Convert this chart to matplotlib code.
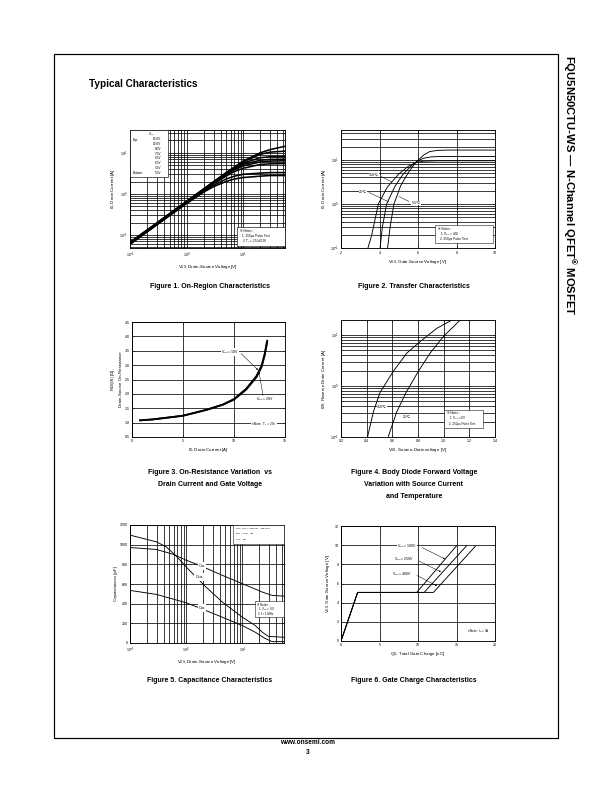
import matplotlib
matplotlib.use('Agg')
import matplotlib.pyplot as plt
from matplotlib.ticker import NullFormatter, LogLocator, MultipleLocator, FormatStrFormatter
from matplotlib.patches import Rectangle

plt.rcParams['font.family'] = ['Liberation Sans', 'DejaVu Sans']
plt.rcParams['mathtext.fontset'] = 'custom'
plt.rcParams['mathtext.rm'] = 'Liberation Sans'
plt.rcParams['mathtext.it'] = 'Liberation Sans:italic'
plt.rcParams['mathtext.bf'] = 'Liberation Sans:bold'
plt.rcParams['mathtext.default'] = 'regular'

# ---------------- data ----------------
# Figure 1: On-region characteristics
f1_vds = [0.1, 0.2, 0.5, 1, 2, 3, 5, 7, 10, 20, 30, 55]
f1_vgs_labels = ['15.0V', '10.0V', '8.0V', '7.0V', '6.5V', '6.0V', '5.5V', '5.0V']
f1_id_15 = [0.066, 0.132, 0.33, 0.66, 1.32, 1.98, 3.3, 4.5, 6.3, 10.0, 12.0, 14.4]
f1_id_10 = [0.065, 0.130, 0.325, 0.65, 1.30, 1.95, 3.2, 4.4, 6.0, 9.2, 10.4, 11.0]
f1_id_8 = [0.064, 0.128, 0.32, 0.64, 1.28, 1.90, 3.1, 4.3, 5.6, 7.6, 8.0, 8.2]
f1_id_7 = [0.063, 0.126, 0.315, 0.63, 1.26, 1.87, 3.0, 4.1, 5.2, 6.6, 6.9, 7.0]
f1_id_65 = [0.062, 0.124, 0.31, 0.62, 1.23, 1.82, 2.9, 3.9, 4.8, 6.0, 6.3, 6.4]
f1_id_6 = [0.061, 0.122, 0.305, 0.61, 1.20, 1.75, 2.7, 3.5, 4.2, 5.2, 5.4, 5.5]
f1_id_55 = [0.060, 0.120, 0.30, 0.60, 1.15, 1.60, 2.3, 2.7, 3.0, 3.2, 3.3, 3.3]
f1_id_5 = [0.059, 0.118, 0.295, 0.58, 1.10, 1.50, 2.0, 2.3, 2.5, 2.7, 2.8, 2.8]

# Figure 2: Transfer characteristics
f2_vgs_150 = [3.4, 3.6, 3.94, 4.4, 5.0, 5.5, 5.9, 6.3, 7.0, 10.0]
f2_id_150 = [0.1, 0.2, 1.0, 2.4, 4.8, 7.2, 8.8, 9.4, 9.6, 9.6]
f2_vgs_25 = [4.03, 4.15, 4.37, 4.8, 5.2, 5.6, 5.95, 6.3, 6.7, 7.2, 10.0]
f2_id_25 = [0.1, 0.3, 1.0, 2.5, 4.6, 7.0, 9.4, 11.0, 11.8, 12.0, 12.0]
f2_vgs_m55 = [4.42, 4.55, 4.75, 5.1, 5.5, 5.9, 6.3, 6.6, 7.0, 7.5, 10.0]
f2_id_m55 = [0.1, 0.3, 1.0, 2.6, 5.2, 9.0, 13.0, 15.5, 16.5, 16.8, 16.8]

# Figure 3: On-resistance vs drain current
f3_id = [0.8, 2, 5, 7.3, 8.9, 10, 11.2, 12.2, 12.7, 13.0, 13.25]
f3_rds_10 = [1.08, 1.11, 1.24, 1.45, 1.63, 1.82, 2.18, 2.62, 2.98, 3.38, 3.85]
f3_rds_20 = [1.08, 1.11, 1.24, 1.44, 1.62, 1.80, 2.15, 2.58, 2.93, 3.33, 3.80]

# Figure 4: Body diode forward voltage
f4_vsd_150 = [0.408, 0.452, 0.504, 0.608, 0.712, 0.816, 0.946, 1.062]
f4_isd_150 = [0.103, 0.31, 0.745, 1.95, 4.4, 7.4, 13.5, 19.5]
f4_vsd_25 = [0.569, 0.634, 0.707, 0.803, 0.894, 0.997, 1.127]
f4_isd_25 = [0.103, 0.31, 0.745, 1.95, 4.4, 9.3, 19.5]

# Figure 5: Capacitance characteristics
f5_vds_iss = [0.1, 0.295, 0.58, 1.0, 1.72, 4.4, 10, 22.6, 33.7, 55]
f5_ciss = [971, 951, 903, 842, 790, 688, 603, 518, 484, 477]
f5_vds_oss = [0.1, 0.295, 0.44, 0.66, 1.14, 2.25, 4.4, 10, 17, 22.6, 29, 55]
f5_coss = [1097, 1029, 978, 886, 739, 569, 416, 262, 177, 109, 68, 58]
f5_vds_rss = [0.1, 0.295, 1.0, 2.25, 4.4, 10, 17, 25, 33.7, 55]
f5_crss = [535, 494, 409, 330, 262, 177, 109, 48, 14, 14]

# Figure 6: Gate charge characteristics
f6_qg_100 = [0, 2.16, 9.83, 15.0]
f6_qg_250 = [0, 2.16, 10.8, 16.3]
f6_qg_400 = [0, 2.16, 12.0, 17.5]
f6_vgs = [0, 5.07, 5.07, 9.93]

# ---------------- layout helpers ----------------
W, H = 612, 792
fig = plt.figure(figsize=(W / 72, H / 72), dpi=72)


def add_ax(l, t, r, b):
    return fig.add_axes([l / W, 1 - b / H, (r - l) / W, (b - t) / H])


def style(ax):
    for s in ax.spines.values():
        s.set_linewidth(0.9)
    ax.tick_params(which='both', direction='in', labelsize=3.6, width=0.5, pad=2.5,
                   top=True, right=True)
    ax.tick_params(which='major', length=2.2)
    ax.tick_params(which='minor', length=1.2)


def box(ax, l, t, r, b, lw=0.6):
    ax.add_patch(Rectangle((l / W, 1 - b / H), (r - l) / W, (b - t) / H,
                           transform=fig.transFigure, fc='white', ec='black',
                           lw=lw, zorder=5, clip_on=False))


def txt(ax, x, y, s, size=3.3, bg=False, **kw):
    kw.setdefault('va', 'center')
    if bg:
        kw['bbox'] = dict(fc='white', ec='none', pad=0.4)
    ax.text(x / W, 1 - y / H, s, transform=fig.transFigure, fontsize=size,
            zorder=6, **kw)


def arrow(ax, x1, y1, x2, y2, head=True):
    ax.annotate('', xy=(x2 / W, 1 - y2 / H), xycoords='figure fraction',
                xytext=(x1 / W, 1 - y1 / H), textcoords='figure fraction',
                arrowprops=dict(arrowstyle='-|>' if head else '-', lw=0.5,
                                color='black', mutation_scale=3, shrinkA=0, shrinkB=0),
                zorder=6)


gridkw = dict(color='black', lw=0.75)
lab = 4.4

# ---------------- page decoration ----------------
fig.add_artist(Rectangle((54 / W, 1 - 738 / H), (558 - 54) / W, (738 - 54) / H,
                         transform=fig.transFigure, fill=False, ec='black', lw=1.2))
fig.text(89 / W, 1 - 84 / H, 'Typical Characteristics', fontsize=10, fontweight='bold',
         va='center', ha='left')
fig.text(569 / W, 1 - 55 / H, 'FQU5N50CTU-WS \u2014 N-Channel QFET$^{\u00ae}$ MOSFET',
         fontsize=11.3, fontweight='bold', rotation=-90, va='top', ha='center')
fig.text(308 / W, 1 - 743 / H, 'www.onsemi.com', fontsize=6.5, fontweight='bold',
         ha='center', va='center')
fig.text(308 / W, 1 - 752 / H, '3', fontsize=6.5, fontweight='bold', ha='center',
         va='center')

caps = [(210, [287], ['Figure 1. On-Region Characteristics']),
        (414, [287], ['Figure 2. Transfer Characteristics']),
        (210, [473, 485], ['Figure 3. On-Resistance Variation  vs',
                           'Drain Current and Gate Voltage']),
        (414, [473, 485, 497], ['Figure 4. Body Diode Forward Voltage',
                                'Variation with Source Current', 'and Temperature']),
        (210, [681], ['Figure 5. Capacitance Characteristics']),
        (414, [681], ['Figure 6. Gate Charge Characteristics'])]
for cx, ys, lines in caps:
    for yy, s in zip(ys, lines):
        fig.text(cx / W, 1 - yy / H, s, fontsize=7, fontweight='bold', ha='center',
                 va='center')

# ---------------- Figure 1 ----------------
ax1 = add_ax(130, 130, 285, 248)
ax1.set_xscale('log')
ax1.set_yscale('log')
for yv in [f1_id_15, f1_id_10, f1_id_8, f1_id_7, f1_id_65, f1_id_6, f1_id_55, f1_id_5]:
    ax1.plot(f1_vds, yv, color='black', lw=1.6, zorder=3)
ax1.set_xlim(0.1, 55)
ax1.set_ylim(0.048, 36)
ax1.xaxis.set_major_locator(LogLocator(base=10, numticks=10))
ax1.yaxis.set_major_locator(LogLocator(base=10, numticks=10))
ax1.xaxis.set_minor_formatter(NullFormatter())
ax1.yaxis.set_minor_formatter(NullFormatter())
ax1.grid(True, which='both', **gridkw)
style(ax1)
ax1.set_xlabel(r'V$_{DS}$, Drain-Source Voltage [V]', fontsize=lab, labelpad=3)
ax1.set_ylabel(r'I$_{D}$, Drain Current [A]', fontsize=lab, labelpad=2)
box(ax1, 130, 130, 168, 177)
txt(ax1, 152, 134.5, r'V$_{GS}$', size=3.3, ha='center')
ys1 = [139.5, 144.2, 149, 153.7, 158.4, 163.1, 167.8, 172.5]
for yy, s in zip(ys1, f1_vgs_labels):
    txt(ax1, 161, yy, s, size=3.1, ha='right')
txt(ax1, 133, ys1[0], 'Top:', size=3.1, ha='left')
txt(ax1, 133, ys1[-1], 'Bottom:', size=3.1, ha='left')
box(ax1, 237, 227, 285, 246)
txt(ax1, 240, 231, '\u203b Notes :', size=3.1)
txt(ax1, 242, 236, '1. 250\u03bcs Pulse Test', size=3.1)
txt(ax1, 242, 241.5, r'2. T$_C$ = 25\u2103', size=3.1)

# ---------------- Figure 2 ----------------
ax2 = add_ax(341, 130, 495, 248)
ax2.set_yscale('log')
ax2.plot(f2_vgs_150, f2_id_150, color='black', lw=0.9, zorder=3)
ax2.plot(f2_vgs_25, f2_id_25, color='black', lw=0.9, zorder=3)
ax2.plot(f2_vgs_m55, f2_id_m55, color='black', lw=0.9, zorder=3)
ax2.set_xlim(2, 10)
ax2.set_ylim(0.1, 48)
ax2.xaxis.set_major_locator(MultipleLocator(2))
ax2.yaxis.set_major_locator(LogLocator(base=10, numticks=10))
ax2.yaxis.set_minor_formatter(NullFormatter())
ax2.grid(True, axis='y', which='both', **gridkw)
ax2.grid(True, axis='x', which='major', **gridkw)
style(ax2)
ax2.set_xlabel(r'V$_{GS}$, Gate-Source Voltage [V]', fontsize=lab, labelpad=3)
ax2.set_ylabel(r'I$_{D}$, Drain Current [A]', fontsize=lab, labelpad=2)
txt(ax2, 374, 175, '150\u2103', size=3.5, ha='center', bg=True)
arrow(ax2, 381, 176.5, 392, 182, head=False)
txt(ax2, 363, 192, '25\u2103', size=3.5, ha='center', bg=True)
arrow(ax2, 369, 192.5, 389, 202, head=False)
txt(ax2, 416, 203, '-55\u2103', size=3.5, ha='center', bg=True)
arrow(ax2, 409, 201.5, 399, 196.5, head=False)
box(ax2, 435, 225, 493, 243, lw=0.5)
txt(ax2, 438, 229, '\u203b Notes :', size=3.1)
txt(ax2, 440, 234, r'1. V$_{DS}$ = 40V', size=3.1)
txt(ax2, 440, 239, '2. 250\u03bcs Pulse Test', size=3.1)

# ---------------- Figure 3 ----------------
ax3 = add_ax(132, 322, 285, 437)
ax3.plot(f3_id, f3_rds_10, color='black', lw=1.8, zorder=3)
ax3.plot(f3_id, f3_rds_20, color='black', lw=1.8, zorder=3)
ax3.set_xlim(0, 15)
ax3.set_ylim(0.5, 4.5)
ax3.xaxis.set_major_locator(MultipleLocator(5))
ax3.yaxis.set_major_locator(MultipleLocator(0.5))
ax3.yaxis.set_major_formatter(FormatStrFormatter('%.1f'))
ax3.grid(True, which='major', **gridkw)
style(ax3)
ax3.set_xlabel(r'I$_{D}$, Drain Current [A]', fontsize=lab, labelpad=3)
ax3.set_ylabel('R$_{DS(ON)}$ [\u03a9],\nDrain-Source On-Resistance', fontsize=lab,
               labelpad=2, linespacing=1.0)
txt(ax3, 230, 352, r'V$_{GS}$ = 10V', size=3.5, ha='center', bg=True)
arrow(ax3, 241, 353.5, 258, 370)
txt(ax3, 265, 399.5, r'V$_{GS}$ = 20V', size=3.5, ha='center', bg=True)
arrow(ax3, 263, 395.5, 259, 372)
txt(ax3, 264, 424, '\u203b Note : T$_J$ = 25\u2103', size=3.1, ha='center', bg=True)

# ---------------- Figure 4 ----------------
ax4 = add_ax(341, 320, 495, 437)
ax4.set_yscale('log')
ax4.plot(f4_vsd_150, f4_isd_150, color='black', lw=0.9, zorder=3)
ax4.plot(f4_vsd_25, f4_isd_25, color='black', lw=0.9, zorder=3)
ax4.set_xlim(0.2, 1.4)
ax4.set_ylim(0.1, 19.7)
ax4.xaxis.set_major_locator(MultipleLocator(0.2))
ax4.xaxis.set_major_formatter(FormatStrFormatter('%.1f'))
ax4.yaxis.set_major_locator(LogLocator(base=10, numticks=10))
ax4.yaxis.set_minor_formatter(NullFormatter())
ax4.grid(True, axis='y', which='both', **gridkw)
ax4.grid(True, axis='x', which='major', **gridkw)
style(ax4)
ax4.set_xlabel(r'V$_{SD}$, Source-Drain voltage [V]', fontsize=lab, labelpad=3)
ax4.set_ylabel(r'I$_{DR}$, Reverse Drain Current [A]', fontsize=lab, labelpad=2)
txt(ax4, 382, 407, '150\u2103', size=3.5, ha='center', bg=True)
txt(ax4, 407, 417, '25\u2103', size=3.5, ha='center', bg=True)
box(ax4, 444, 410, 483, 428, lw=0.5)
txt(ax4, 447, 413.5, '\u203b Notes :', size=3.0)
txt(ax4, 449, 418.5, r'1. V$_{GS}$ = 0V', size=3.0)
txt(ax4, 449, 423.5, '2. 250\u03bcs Pulse Test', size=3.0)

# ---------------- Figure 5 ----------------
ax5 = add_ax(130, 525, 284, 643)
ax5.set_xscale('log')
ax5.plot(f5_vds_iss, f5_ciss, color='black', lw=0.9, zorder=3)
ax5.plot(f5_vds_oss, f5_coss, color='black', lw=0.9, zorder=3)
ax5.plot(f5_vds_rss, f5_crss, color='black', lw=0.9, zorder=3)
ax5.set_xlim(0.1, 55)
ax5.set_ylim(0, 1200)
ax5.xaxis.set_major_locator(LogLocator(base=10, numticks=10))
ax5.xaxis.set_minor_formatter(NullFormatter())
ax5.yaxis.set_major_locator(MultipleLocator(200))
ax5.grid(True, axis='x', which='both', **gridkw)
ax5.grid(True, axis='y', which='major', **gridkw)
style(ax5)
ax5.set_xlabel(r'V$_{DS}$, Drain-Source Voltage [V]', fontsize=lab, labelpad=3)
ax5.set_ylabel('Capacitances [pF]', fontsize=lab, labelpad=2)
txt(ax5, 202, 566, r'C$_{iss}$', size=3.8, ha='center', bg=True)
txt(ax5, 199, 577, r'C$_{oss}$', size=3.8, ha='center', bg=True)
txt(ax5, 202, 608, r'C$_{rss}$', size=3.8, ha='center', bg=True)
box(ax5, 233, 525, 284, 544, lw=0.5)
txt(ax5, 235, 528.6, r'C$_{iss}$ = C$_{gs}$ + C$_{gd}$ (C$_{ds}$ = shorted)', size=2.45)
txt(ax5, 235, 534.3, r'C$_{oss}$ = C$_{ds}$ + C$_{gd}$', size=2.45)
txt(ax5, 235, 540.0, r'C$_{rss}$ = C$_{gd}$', size=2.45)
box(ax5, 255, 601, 284, 617, lw=0.5)
txt(ax5, 257, 604.5, '\u203b Notes ;', size=2.9)
txt(ax5, 258, 609.5, r'1. V$_{GS}$ = 0V', size=2.9)
txt(ax5, 258, 614, '2. f = 1 MHz', size=2.9)

# ---------------- Figure 6 ----------------
ax6 = add_ax(341, 526, 495, 641)
ax6.plot(f6_qg_100, f6_vgs, color='black', lw=0.9, zorder=3)
ax6.plot(f6_qg_250, f6_vgs, color='black', lw=0.9, zorder=3)
ax6.plot(f6_qg_400, f6_vgs, color='black', lw=0.9, zorder=3)
ax6.set_xlim(0, 20)
ax6.set_ylim(0, 12)
ax6.xaxis.set_major_locator(MultipleLocator(5))
ax6.yaxis.set_major_locator(MultipleLocator(2))
ax6.grid(True, which='major', **gridkw)
style(ax6)
ax6.set_xlabel(r'Q$_{G}$, Total Gate Charge [nC]', fontsize=lab, labelpad=3)
ax6.set_ylabel(r'V$_{GS}$, Gate-Source Voltage [V]', fontsize=lab, labelpad=2)
txt(ax6, 407, 546, r'V$_{DS}$ = 100V', size=3.5, ha='center', bg=True)
arrow(ax6, 422, 547.5, 445, 559)
txt(ax6, 404, 559.5, r'V$_{DS}$ = 250V', size=3.5, ha='center', bg=True)
arrow(ax6, 419, 561, 441, 572)
txt(ax6, 402, 574, r'V$_{DS}$ = 400V', size=3.5, ha='center', bg=True)
arrow(ax6, 417, 575.5, 437, 586)
txt(ax6, 478, 631, '\u203b Note : I$_D$ = 5A', size=3.0, ha='center', bg=True)

fig.savefig('out.png', dpi=72)
